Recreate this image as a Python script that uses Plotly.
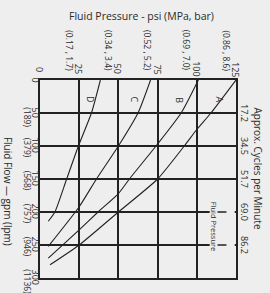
import plotly.graph_objects as go

# ---------------- data ----------------
pressure_ticks = [0, 25, 50, 75, 100, 125]                      # psi
pressure_metric = ["", "(0.17 , 1.7)", "(0.34 , 3.4)", "(0.52 , 5.2)",
                   "(0.69 , 7.0)", "(0.86 , 8.6)"]               # (MPa , bar)
flow_ticks = [0, 50, 100, 150, 200, 250, 300]                    # gpm
flow_metric = ["", "(189)", "(379)", "(568)", "(757)", "(946)", "(1136)"]  # lpm
cycle_flows = [50, 100, 150, 200, 250]
cycle_labels = ["17.2", "34.5", "51.7", "69.0", "86.2"]

curve_names = ["A", "B", "C", "D"]
flow_A = [0, 50, 75, 100, 150, 200, 250, 280]
psi_A = [125, 109, 100, 92, 75, 50, 25, 6.4]
flow_B = [0, 50, 100, 150, 172, 200, 227, 270]
psi_B = [101, 90, 74, 57, 50, 37, 25, 5.3]
flow_C = [0, 50, 100, 150, 192, 252]
psi_C = [70.5, 62.5, 50, 36, 25, 5.3]
flow_D = [0, 50, 100, 150, 200, 214]
psi_D = [38.5, 32.8, 24.5, 17, 9.5, 5.3]
curve_flows = [flow_A, flow_B, flow_C, flow_D]
curve_psi = [psi_A, psi_B, psi_C, psi_D]
label_flow = [30, 30, 29, 30]
label_psi = [114.4, 89, 60.4, 31.8]

# ---------------- style ----------------
BG = "#eeeeee"
INK = "#222222"
TXT = "#2a2a2a"
FONT = "Open Sans"

fig = go.Figure()

for name, fl, ps in zip(curve_names, curve_flows, curve_psi):
    fig.add_trace(go.Scatter(
        x=ps, y=fl, mode="lines", name=name,
        line=dict(color=INK, width=1.1, shape="spline", smoothing=0.6),
        hoverinfo="skip", showlegend=False))

ann = []
# curve letters
for name, f, p in zip(curve_names, label_flow, label_psi):
    ann.append(dict(x=p, y=f, xref="x", yref="y", text=name, showarrow=False,
                    textangle=90, font=dict(size=9, color=TXT, family=FONT)))

# top title
ann.append(dict(x=0.52, y=1, xref="paper", yref="paper", yshift=64,
                text="Fluid Pressure - psi (MPa, bar)", showarrow=False,
                xanchor="center", yanchor="middle",
                font=dict(size=10.5, color=TXT, family=FONT)))

# pressure tick labels (rotated)
for p, m in zip(pressure_ticks, pressure_metric):
    ann.append(dict(x=p, y=1, xref="x", yref="paper", text=str(p), showarrow=False,
                    textangle=90, xanchor="center", yanchor="middle", yshift=11,
                    font=dict(size=9, color=TXT, family=FONT)))
    if m:
        ann.append(dict(x=p, y=1, xref="x", yref="paper", text=m, showarrow=False,
                        textangle=90, xanchor="center", yanchor="top", yshift=52,
                        xshift=-10, font=dict(size=8.5, color=TXT, family=FONT)))

# flow tick labels (left, rotated)
for f, m in zip(flow_ticks, flow_metric):
    n = len(str(f))
    half = 2.6 * n
    ann.append(dict(x=0, y=f, xref="paper", yref="y", text=str(f), showarrow=False,
                    textangle=90, xanchor="center", yanchor="middle",
                    xshift=-4.5, yshift=1 if f else 0,
                    font=dict(size=9, color=TXT, family=FONT)))
    if m:
        ann.append(dict(x=0, y=f, xref="paper", yref="y", text=m, showarrow=False,
                        textangle=90, xanchor="center", yanchor="top",
                        xshift=-12.5, yshift=half + 3,
                        font=dict(size=8.5, color=TXT, family=FONT)))

ann.append(dict(x=0, y=168, xref="paper", yref="y", text="Fluid Flow \u2014 gpm (lpm)",
                showarrow=False, textangle=90, xanchor="center", yanchor="middle",
                xshift=-32, font=dict(size=10, color=TXT, family=FONT)))

# right side: cycles per minute
for f, c in zip(cycle_flows, cycle_labels):
    ann.append(dict(x=1, y=f, xref="paper", yref="y", text=c, showarrow=False,
                    textangle=90, xanchor="center", yanchor="middle", xshift=9,
                    font=dict(size=9, color=TXT, family=FONT)))
ann.append(dict(x=1, y=134, xref="paper", yref="y", text="Approx. Cycles per Minute",
                showarrow=False, textangle=90, xanchor="center", yanchor="middle",
                xshift=22, font=dict(size=10, color=TXT, family=FONT)))

# small "Fluid Pressure" key
ann.append(dict(x=111.5, y=222, xref="x", yref="y", text="Fluid Pressure",
                showarrow=False, textangle=90, xanchor="center", yanchor="middle",
                font=dict(size=7.5, color=TXT, family=FONT)))

shapes = [
    dict(type="rect", xref="x", yref="y", x0=108.2, x1=124.2, y0=185, y1=265,
         fillcolor=BG, line=dict(width=0), layer="above"),
]
for f in [200, 250]:
    shapes.append(dict(type="line", xref="x", yref="y", x0=113.2, x1=118.9, y0=f, y1=f,
                       line=dict(color=INK, width=1.5), layer="above"))

fig.update_layout(
    width=270, height=293,
    margin=dict(l=40, r=34, t=80, b=15, pad=0),
    paper_bgcolor=BG, plot_bgcolor=BG,
    annotations=ann, shapes=shapes,
    showlegend=False,
)
fig.update_xaxes(range=[0, 125], tickvals=pressure_ticks, showticklabels=False,
                 showgrid=True, gridcolor=INK, gridwidth=1.5, zeroline=False,
                 showline=True, linecolor=INK, linewidth=1.5, mirror=True,
                 ticks="", fixedrange=True)
fig.update_yaxes(range=[300, 0], tickvals=flow_ticks, showticklabels=False,
                 showgrid=True, gridcolor=INK, gridwidth=1.5, zeroline=False,
                 showline=True, linecolor=INK, linewidth=1.5, mirror=True,
                 ticks="", fixedrange=True)

fig.write_html("out.html", config={"displayModeBar": False},
               post_script="document.body.style.margin='0';"
                           "document.body.style.background='" + BG + "';")
